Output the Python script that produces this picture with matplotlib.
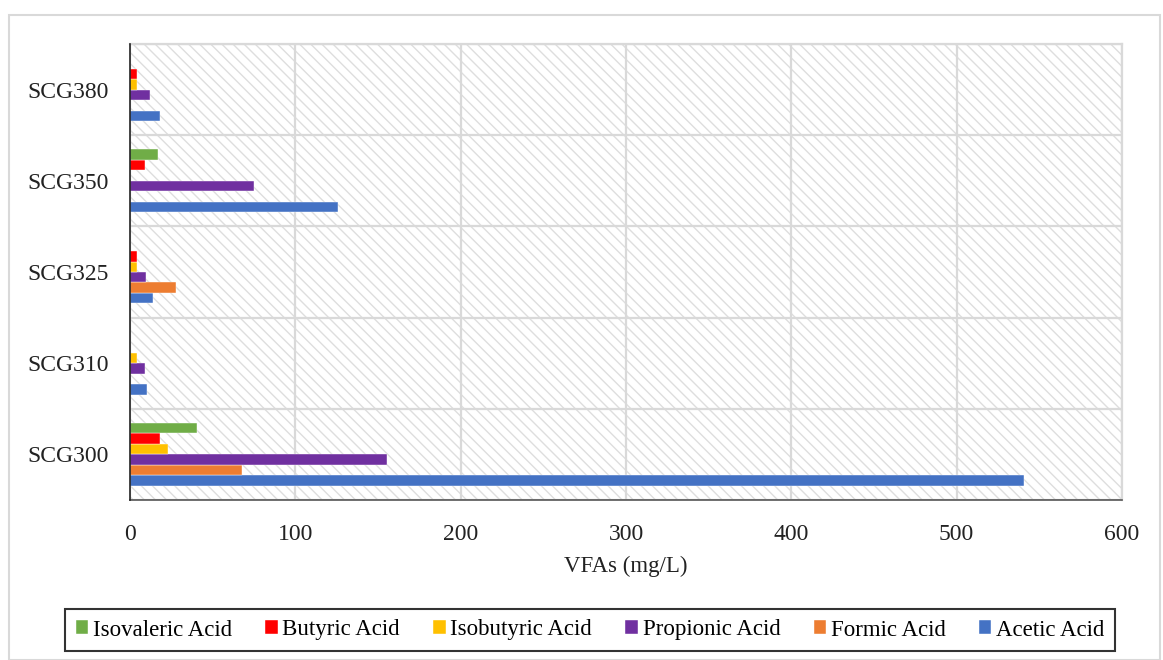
import numpy as np
import matplotlib.pyplot as plt
from matplotlib.patches import Rectangle

plt.rcParams['font.family'] = ['Liberation Serif', 'DejaVu Serif']
plt.rcParams['hatch.linewidth'] = 1.0

samples = ['SCG300', 'SCG310', 'SCG325', 'SCG350', 'SCG380']
acids = ['Acetic Acid', 'Formic Acid', 'Propionic Acid',
         'Isobutyric Acid', 'Butyric Acid', 'Isovaleric Acid']
colors = ['#4472C4', '#ED7D31', '#7030A0', '#FFC000', '#FF0000', '#70AD47']

acetic = [541, 10, 13.7, 126, 18.3]
formic = [68, 0, 27.6, 0, 0]
propionic = [155.5, 9, 9.9, 74.8, 12.3]
isobutyric = [23, 4.2, 4.2, 0, 4.2]
butyric = [18.3, 0, 4.2, 9, 4.2]
isovaleric = [40.7, 0, 0, 16.7, 0]
values = [acetic, formic, propionic, isobutyric, butyric, isovaleric]

fig = plt.figure(figsize=(11.63, 6.60), dpi=100)
ax = fig.add_axes([130 / 1163, 1 - 500 / 660, 992 / 1163, 456 / 660])

# hatched plot background
ax.add_patch(Rectangle((0, 0), 1, 1, transform=ax.transAxes, facecolor='white',
                       edgecolor='#dedede', hatch='\\\\\\', linewidth=0, zorder=0))
ax.set_facecolor('none')

y = np.arange(len(samples))
h = 0.115
n = len(acids)
handles = []
for i, (name, vals, c) in enumerate(zip(acids, values, colors)):
    off = (i - (n - 1) / 2) * h
    b = ax.barh(y + off, vals, height=h, color=c, label=name, zorder=3,
                edgecolor='white', linewidth=0.3)
    handles.append(b)

ax.set_xlim(0, 600)
ax.set_ylim(-0.5, 4.5)
ax.set_xticks(np.arange(0, 601, 100))
ax.set_yticks(y)
ax.set_yticklabels(samples)
ax.set_yticks(np.arange(-0.5, 4.6, 1), minor=True)
ax.tick_params(axis='both', which='both', length=0, labelsize=17, colors='#222222')
ax.tick_params(axis='x', pad=17)
ax.tick_params(axis='y', pad=15)
ax.grid(axis='x', which='major', color='#d9d9d9', linewidth=1.6, zorder=1)
ax.grid(axis='y', which='minor', color='#d9d9d9', linewidth=1.6, zorder=1)
ax.grid(axis='y', which='major', visible=False)
ax.set_axisbelow(True)

for s in ['top', 'right']:
    ax.spines[s].set_color('#d9d9d9')
    ax.spines[s].set_linewidth(1.6)
ax.spines['left'].set_color('#222222')
ax.spines['left'].set_linewidth(1.2)
ax.spines['bottom'].set_color('#555555')
ax.spines['bottom'].set_linewidth(1.2)
ax.spines['left'].set_zorder(4)

ax.set_xlabel('VFAs (mg/L)', fontsize=16.5, labelpad=8, color='#222222')

leg = fig.legend(handles[::-1], acids[::-1], ncol=6, loc='center',
                 bbox_to_anchor=(590 / 1163, 1 - 630 / 660), fontsize=16.5,
                 frameon=True, fancybox=False, edgecolor='black',
                 handlelength=0.55, handleheight=0.55, handletextpad=0.2,
                 columnspacing=1.45, borderpad=0.45)
leg.get_frame().set_linewidth(1.5)

# outer chart border
fig.add_artist(Rectangle((9 / 1163, 0), 1151 / 1163, 1 - 15 / 660,
                         transform=fig.transFigure, fill=False,
                         edgecolor='#d9d9d9', linewidth=1.5))

fig.savefig('out.png', dpi=100)
